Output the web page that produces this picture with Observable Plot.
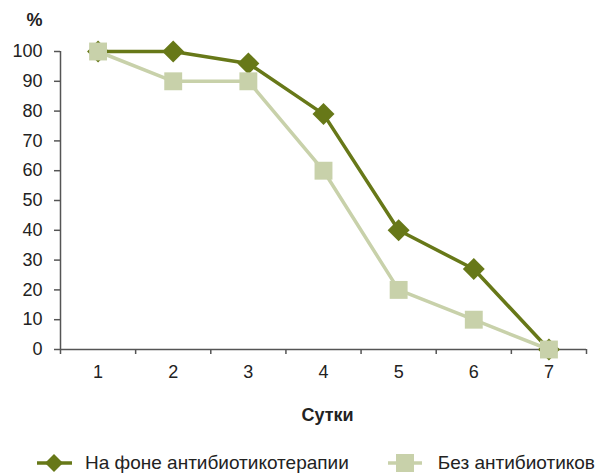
<!DOCTYPE html>
<html><head><meta charset="utf-8">
<script src="https://cdn.jsdelivr.net/npm/d3@7"></script>
<script src="https://cdn.jsdelivr.net/npm/@observablehq/plot@0.6"></script>
<style>
body{margin:0;background:#fff;font-family:"Liberation Sans",Arial,sans-serif;}
#legend{height:30px;box-sizing:border-box;padding-top:8px;display:flex;align-items:center;font-size:19px;color:#222;white-space:nowrap;}
.item{display:flex;align-items:center;}
</style></head>
<body>
<div id="chart"></div>
<div id="legend"></div>
<script>
const days = [1, 2, 3, 4, 5, 6, 7];
const withAntibiotics = [100, 100, 96, 79, 40, 27, 0];
const withoutAntibiotics = [100, 90, 90, 60, 20, 10, 0];
const seriesNames = ["На фоне антибиотикотерапии", "Без антибиотиков"];
const yTicks = [0, 10, 20, 30, 40, 50, 60, 70, 80, 90, 100];
const dark = "#677818", light = "#c8d1aa", axisColor = "#555";

const s1 = days.map((d, i) => ({day: d, v: withAntibiotics[i]}));
const s2 = days.map((d, i) => ({day: d, v: withoutAntibiotics[i]}));
const bounds = days.concat([days.length + 1]).map(d => d - 0.5);

const plot = Plot.plot({
  width: 603, height: 444,
  marginLeft: 60, marginRight: 17, marginTop: 51, marginBottom: 95,
  style: {fontFamily: '"Liberation Sans", Arial, sans-serif', color: "#222", background: "#fff"},
  x: {domain: [0.5, 7.5]},
  y: {domain: [0, 100]},
  marks: [
    Plot.axisY({ticks: yTicks, tickSize: 6, tickPadding: 12, fontSize: 18, label: null, stroke: axisColor, strokeWidth: 1.5}),
    Plot.axisX({ticks: bounds, tickSize: 5, tickFormat: () => "", label: null, stroke: axisColor, strokeWidth: 1.5}),
    Plot.axisX({ticks: days, tickSize: 0, tickPadding: 16, fontSize: 18, tickFormat: d3.format("d"), label: null}),
    Plot.ruleX([0.5], {stroke: axisColor, strokeWidth: 1.5}),
    Plot.ruleY([0], {stroke: axisColor, strokeWidth: 1.5}),
    Plot.line(s1, {x: "day", y: "v", stroke: dark, strokeWidth: 3.5}),
    Plot.dot(s1, {x: "day", y: "v", symbol: "diamond2", r: 9.9, fill: dark, stroke: "none"}),
    Plot.line(s2, {x: "day", y: "v", stroke: light, strokeWidth: 3.5}),
    Plot.dot(s2, {x: "day", y: "v", symbol: "square", r: 10.1, fill: light, stroke: "none"}),
    Plot.text(["%"], {frameAnchor: "top-left", dx: -26, dy: -31, text: d => d, fontSize: 18, fontWeight: "bold", textAnchor: "middle", lineAnchor: "middle"}),
    Plot.text(["Сутки"], {frameAnchor: "bottom", dx: 4, dy: 66, text: d => d, fontSize: 18, fontWeight: "bold", textAnchor: "middle", lineAnchor: "middle"})
  ]
});
document.getElementById("chart").appendChild(plot);

const legend = document.getElementById("legend");
const sw1 = `<svg width="36" height="20" style="margin-left:37px"><line x1="0" y1="10" x2="35" y2="10" stroke="${dark}" stroke-width="3.5"/><path d="M17,1L26,10L17,19L8,10Z" fill="${dark}"/></svg>`;
const sw2 = `<svg width="36" height="20" style="margin-left:39px"><line x1="0" y1="10" x2="34" y2="10" stroke="${light}" stroke-width="3.5"/><rect x="8" y="1" width="18" height="18" fill="${light}"/></svg>`;
legend.innerHTML = `<span class="item">${sw1}<span style="margin-left:12px">${seriesNames[0]}</span></span><span class="item">${sw2}<span style="margin-left:14px">${seriesNames[1]}</span></span>`;
</script>
</body></html>
